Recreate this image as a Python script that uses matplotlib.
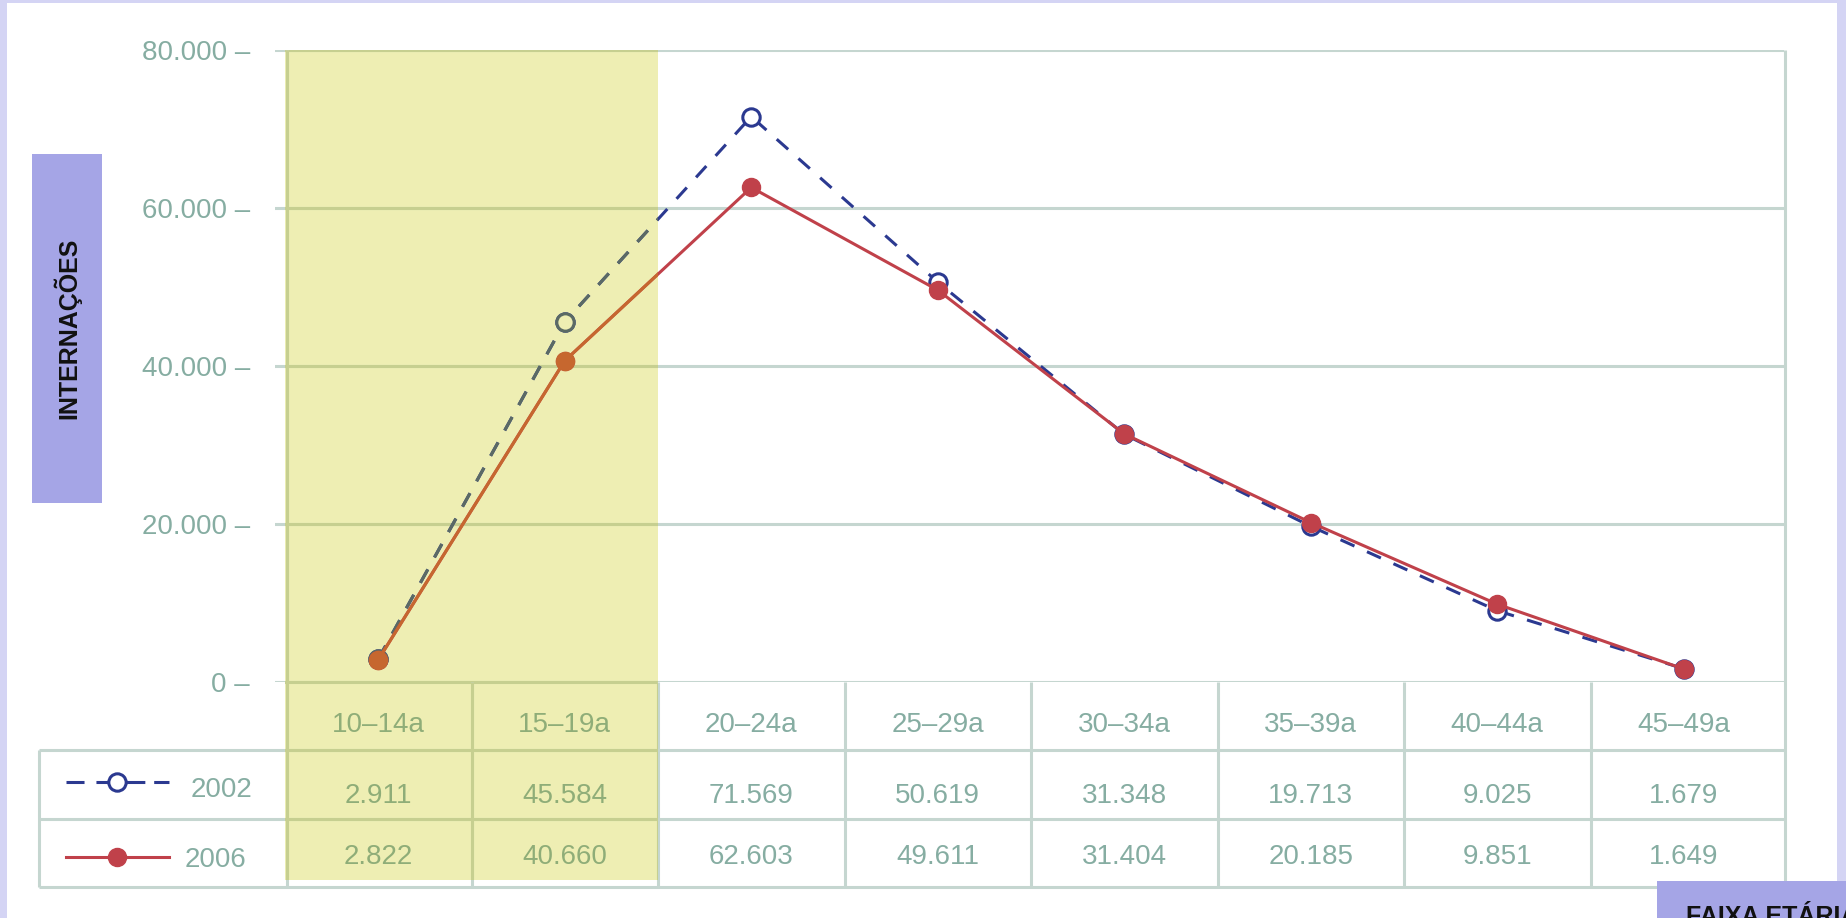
import matplotlib
matplotlib.use("Agg")
import matplotlib.pyplot as plt
from matplotlib import transforms
from matplotlib.lines import Line2D
from matplotlib.patches import Rectangle
from matplotlib.ticker import FuncFormatter, MultipleLocator

# Internações por faixa etária, 2002 x 2006
faixas   = ["10–14a", "15–19a", "20–24a", "25–29a", "30–34a", "35–39a", "40–44a", "45–49a"]
int_2002 = [2911, 45584, 71569, 50619, 31348, 19713, 9025, 1679]
int_2006 = [2822, 40660, 62603, 49611, 31404, 20185, 9851, 1649]
anos     = ["2002", "2006"]
destaque = [0, 1]          # faixas adolescentes sombreadas

W, H, DPI = 1846, 918, 100

AZUL     = "#2b3990"
VERMELHO = "#c0414a"
AZUL_D   = "#5b6a64"       # mesma série dentro da faixa amarela
VERM_D   = "#c6672f"
AMARELO  = "#eeeeb3"
GRADE    = "#c5d6d0"
GRADE_D  = "#c6cf90"
TXT      = "#86ada2"
TXT_D    = "#8fad78"
LILAS    = "#a5a5e6"
MOLDURA  = "#d4d4f4"
LW       = 2.2
FS       = 20

plt.rcParams["font.family"] = ["Liberation Sans", "DejaVu Sans"]


def fx(px):
    return px / W


def fy(py):
    return 1 - py / H


def fmt_pt(v):
    return f"{int(v):,}".replace(",", ".")


fig = plt.figure(figsize=(W / DPI, H / DPI), dpi=DPI)
fig.patch.set_facecolor("white")

# área do gráfico em pixels: esquerda 275, direita 1784, topo 50, base 682
COL = 186.5
ax = fig.add_axes([fx(275), fy(682), fx(1784) - fx(275), fy(50) - fy(682)])
ax.set_xlim(-0.5 - 10 / COL, -0.5 + (1784 - 285) / COL)
ax.set_ylim(0, 80000)
for s in ax.spines.values():
    s.set_visible(False)
ax.set_xticks([])
ax.yaxis.set_major_locator(MultipleLocator(20000))
ax.yaxis.set_major_formatter(FuncFormatter(lambda v, p: fmt_pt(v) + " –"))
ax.tick_params(axis="y", length=0, pad=18, labelsize=FS, labelcolor=TXT)
ax.set_axisbelow(True)
ax.grid(axis="y", color=GRADE, lw=LW)

tb = transforms.blended_transform_factory(ax.transData, fig.transFigure)

# faixa amarela dos adolescentes (desce até a tabela)
band = Rectangle((min(destaque) - 0.5, fy(880)), len(destaque), fy(50) - fy(880),
                 transform=tb, facecolor=AMARELO, edgecolor="none",
                 zorder=0.2, clip_on=False)
ax.add_patch(band)

for yv in ax.get_yticks():
    if 0 <= yv <= 80000:
        g = ax.axhline(yv, color=GRADE_D, lw=LW, zorder=0.6)
        g.set_clip_path(band)

x = list(range(len(faixas)))

# séries: traço normal + repetição recortada pela faixa amarela
estilo_2002 = dict(lw=LW, dashes=(5, 4.5), marker="o", ms=12.5, mew=2.2)
ax.plot(x, int_2002, color=AZUL, mfc="white", mec=AZUL, zorder=3,
        clip_on=False, **estilo_2002)
l = ax.plot(x, int_2002, color=AZUL_D, mfc=AMARELO, mec=AZUL_D, zorder=3.5,
            **estilo_2002)[0]
l.set_clip_path(band)

estilo_2006 = dict(lw=LW, marker="o", ms=13)
ax.plot(x, int_2006, color=VERMELHO, zorder=4, clip_on=False, **estilo_2006)
l = ax.plot(x, int_2006, color=VERM_D, zorder=4.5, **estilo_2006)[0]
l.set_clip_path(band)


# linhas da tabela
def linha(xs, ys, transform, lw=LW):
    base = Line2D(xs, ys, transform=transform, color=GRADE, lw=lw,
                  zorder=2, solid_capstyle="butt")
    fig.add_artist(base)
    sob = Line2D(xs, ys, transform=transform, color=GRADE_D, lw=lw,
                 zorder=2.1, solid_capstyle="butt")
    sob.set_clip_path(band)
    fig.add_artist(sob)


for yp in [750, 819, 887]:
    linha([fx(39), fx(1784)], [fy(yp), fy(yp)], fig.transFigure)
for k in range(1, len(faixas)):
    linha([k - 0.5, k - 0.5], [fy(682), fy(887)], tb)
linha([fx(39), fx(39)], [fy(750), fy(887)], fig.transFigure)
linha([fx(286.5), fx(286.5)], [fy(50), fy(887)], fig.transFigure)
linha([fx(1785), fx(1785)], [fy(50), fy(887)], fig.transFigure)

# cabeçalho e valores
for i, rot in enumerate(faixas):
    cor = TXT_D if i in destaque else TXT
    ax.text(i, fy(732), rot, transform=tb, ha="center", va="baseline",
            fontsize=FS, color=cor, clip_on=False)
    ax.text(i, fy(803), fmt_pt(int_2002[i]), transform=tb, ha="center",
            va="baseline", fontsize=FS, color=cor, clip_on=False)
    ax.text(i, fy(864), fmt_pt(int_2006[i]), transform=tb, ha="center",
            va="baseline", fontsize=FS, color=cor, clip_on=False)

# legenda na primeira coluna da tabela
fig.add_artist(Line2D([fx(66), fx(169)], [fy(782), fy(782)], transform=fig.transFigure,
                      color=AZUL, lw=LW, dashes=(5.9, 3.9, 16, 2.9, 5), zorder=3))
fig.add_artist(Line2D([fx(117)], [fy(782)], transform=fig.transFigure, marker="o",
                      ms=12.5, mew=2.2, mfc="white", mec=AZUL, zorder=3.5))
fig.add_artist(Line2D([fx(66), fx(169)], [fy(857), fy(857)], transform=fig.transFigure,
                      color=VERMELHO, lw=LW, zorder=3))
fig.add_artist(Line2D([fx(117)], [fy(857)], transform=fig.transFigure, marker="o",
                      ms=13, color=VERMELHO, zorder=3.5))
fig.text(fx(221), fy(797), anos[0], ha="center", va="baseline", fontsize=FS, color=TXT)
fig.text(fx(216), fy(867), anos[1], ha="center", va="baseline", fontsize=FS, color=TXT)

# moldura lilás
for x0, y0, x1, y1 in [(0, 0, 7, 918), (0, 0, 1846, 3), (1837, 0, 1846, 918)]:
    fig.patches.append(Rectangle((fx(x0), fy(y1)), fx(x1) - fx(x0), fy(y0) - fy(y1),
                                 transform=fig.transFigure, facecolor=MOLDURA,
                                 edgecolor="none", zorder=0))

# caixas de título dos eixos
fig.patches.append(Rectangle((fx(32), fy(503)), fx(102) - fx(32), fy(154) - fy(503),
                             transform=fig.transFigure, facecolor=LILAS,
                             edgecolor="none", zorder=1))
fig.text(fx(67), fy(328), "INTERNAÇÕES", rotation=90, ha="center", va="center",
         fontsize=18, fontweight="bold", color="#111111", zorder=2)

fig.patches.append(Rectangle((fx(1657), fy(918)), fx(1846) - fx(1657), fy(881) - fy(918),
                             transform=fig.transFigure, facecolor=LILAS,
                             edgecolor="none", zorder=5))
fig.text(fx(1686), fy(924), "FAIXA ETÁRIA", ha="left", va="baseline",
         fontsize=18, fontweight="bold", color="#111111", zorder=6)

fig.savefig("out.png", dpi=DPI)
